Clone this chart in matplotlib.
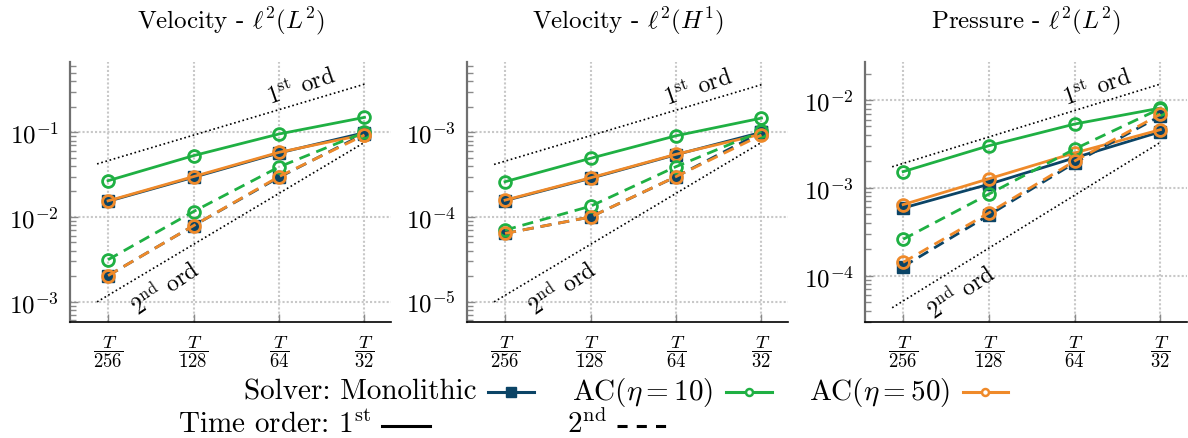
import numpy as np
import matplotlib
matplotlib.use("Agg")
import matplotlib.pyplot as plt
from matplotlib.ticker import LogLocator, NullFormatter, FixedLocator, NullLocator

plt.rcParams["font.family"] = "cmr10"
plt.rcParams["mathtext.fontset"] = "cm"
plt.rcParams["axes.formatter.use_mathtext"] = True
plt.rcParams["axes.unicode_minus"] = True

# time steps (T = 1) and their labels
dt = [1 / 256, 1 / 128, 1 / 64, 1 / 32]
dt_labels = [r"$\dfrac{T}{256}$", r"$\dfrac{T}{128}$", r"$\dfrac{T}{64}$", r"$\dfrac{T}{32}$"]

titles = [r"Velocity - $\ell^2(L^2)$", r"Velocity - $\ell^2(H^1)$", r"Pressure - $\ell^2(L^2)$"]

# velocity l2(L2)
u_l2_mono_1 = [0.0153, 0.0294, 0.057, 0.099]
u_l2_ac10_1 = [0.0268, 0.053, 0.0955, 0.150]
u_l2_ac50_1 = [0.0155, 0.030, 0.058, 0.094]
u_l2_mono_2 = [0.00203, 0.0079, 0.0294, 0.096]
u_l2_ac10_2 = [0.00313, 0.0116, 0.039, 0.100]
u_l2_ac50_2 = [0.00203, 0.0079, 0.030, 0.093]

# velocity l2(H1)
u_h1_mono_1 = [1.56e-4, 2.86e-4, 5.44e-4, 1.0e-3]
u_h1_ac10_1 = [2.61e-4, 4.93e-4, 9.1e-4, 1.47e-3]
u_h1_ac50_1 = [1.58e-4, 2.9e-4, 5.5e-4, 9.5e-4]
u_h1_mono_2 = [6.4e-5, 1.0e-4, 2.99e-4, 1.0e-3]
u_h1_ac10_2 = [7.0e-5, 1.34e-4, 3.93e-4, 1.03e-3]
u_h1_ac50_2 = [6.4e-5, 1.0e-4, 3.0e-4, 9.3e-4]

# pressure l2(L2)
p_l2_mono_1 = [5.9e-4, 1.1e-3, 2.2e-3, 4.35e-3]
p_l2_ac10_1 = [1.53e-3, 3.02e-3, 5.33e-3, 8.1e-3]
p_l2_ac50_1 = [6.45e-4, 1.27e-3, 2.5e-3, 4.6e-3]
p_l2_mono_2 = [1.27e-4, 4.9e-4, 1.93e-3, 6.6e-3]
p_l2_ac10_2 = [2.6e-4, 8.5e-4, 2.77e-3, 8.0e-3]
p_l2_ac50_2 = [1.42e-4, 5.2e-4, 2.02e-3, 6.9e-3]

# reference slopes: value at T/32 of the 1st and 2nd order lines
ref1_end = [0.37, 3.65e-3, 1.52e-2]
ref2_end = [0.076, 7.6e-4, 3.3e-3]

ylims = [(10 ** -3.24, 10 ** -0.17), (10 ** -5.24, 10 ** -2.17), (10 ** -4.527, 10 ** -1.567)]

panels = [
    (u_l2_mono_1, u_l2_ac10_1, u_l2_ac50_1, u_l2_mono_2, u_l2_ac10_2, u_l2_ac50_2),
    (u_h1_mono_1, u_h1_ac10_1, u_h1_ac50_1, u_h1_mono_2, u_h1_ac10_2, u_h1_ac50_2),
    (p_l2_mono_1, p_l2_ac10_1, p_l2_ac50_1, p_l2_mono_2, p_l2_ac10_2, p_l2_ac50_2),
]

NAVY = "#0b4466"
GREEN = "#1fb043"
ORANGE = "#ef8a2a"
GRIDC = "#c8c8c8"

W, H = 1188, 439
fig = plt.figure(figsize=(W / 100, H / 100), dpi=100)

# legend overlay in pixel units
leg = fig.add_axes([0, 0, 1, 1])
leg.set_xlim(0, W)
leg.set_ylim(H, 0)
leg.axis("off")

lefts = [70, 467, 865]
widths = [321, 321, 322]
x_lo = 2 ** (-8 - 0.445)
x_hi = 2 ** (-5 + 0.31)

for i, (series, left, wd) in enumerate(zip(panels, lefts, widths)):
    ax = fig.add_axes([left / W, (H - 323) / H, wd / W, 260 / H])
    ax.set_xscale("log", base=2)
    ax.set_yscale("log")
    ax.set_xlim(x_lo, x_hi)
    ax.set_ylim(*ylims[i])

    mono1, ac10_1, ac50_1, mono2, ac10_2, ac50_2 = series
    sq = dict(marker="s", ms=8.5, lw=2)
    ci = dict(marker="o", ms=8.5, mfc="none", mew=2, lw=2)
    ax.plot(dt, mono1, color=NAVY, **sq, zorder=3)
    ax.plot(dt, ac10_1, color=GREEN, **ci, zorder=3)
    ax.plot(dt, ac50_1, color=ORANGE, **ci, zorder=3)
    ax.plot(dt, mono2, color=NAVY, ls=(0, (4, 2.5)), **sq, zorder=3)
    ax.plot(dt, ac10_2, color=GREEN, ls=(0, (4, 2.5)), **ci, zorder=3)
    ax.plot(dt, ac50_2, color=ORANGE, ls=(0, (4, 2.5)), **ci, zorder=3)

    # order reference lines
    xr = np.array([dt[0] * 0.915, dt[-1]])
    r1 = ref1_end[i] * (xr / dt[-1])
    r2 = ref2_end[i] * (xr / dt[-1]) ** 2
    ax.plot(xr, r1, color="black", ls=(0, (1, 1.6)), lw=1.2, zorder=2)
    ax.plot(xr, r2, color="black", ls=(0, (1, 1.6)), lw=1.2, zorder=2)

    x1 = dt[0] * 2 ** 2.32
    ax.annotate(r"$1^{\rm st}$ ord", xy=(x1, ref1_end[i] * x1 / dt[-1]),
                xytext=(-3.3, 11), textcoords="offset points", fontsize=17,
                rotation=19, rotation_mode="anchor", ha="center", va="center")
    x2 = dt[0] * 2 ** 0.63
    ax.annotate(r"$2^{\rm nd}$ ord", xy=(x2, ref2_end[i] * (x2 / dt[-1]) ** 2),
                xytext=(3, -18), textcoords="offset points", fontsize=17,
                rotation=34, rotation_mode="anchor", ha="center", va="center")

    ax.xaxis.set_major_locator(FixedLocator(dt))
    ax.xaxis.set_minor_locator(NullLocator())
    ax.set_xticklabels(dt_labels)
    ax.yaxis.set_major_locator(LogLocator(base=10, numticks=10))
    ax.yaxis.set_minor_locator(LogLocator(base=10, subs=np.arange(2, 10), numticks=10))
    ax.yaxis.set_minor_formatter(NullFormatter())

    ax.grid(True, which="major", color=GRIDC, ls=(0, (1, 1)), lw=1.5, zorder=0)
    ax.set_axisbelow(True)
    ax.tick_params(axis="both", which="major", direction="in", length=6, width=1,
                   color="#8a8a8a")
    ax.tick_params(axis="y", which="minor", direction="in", length=4.5, width=1,
                   color="#8a8a8a")
    ax.tick_params(axis="y", labelsize=18, pad=8)
    ax.tick_params(axis="x", labelsize=13.5, pad=8)
    for s in ("top", "right"):
        ax.spines[s].set_visible(False)
    ax.spines["left"].set_color("#707070")
    ax.spines["left"].set_linewidth(1.6)
    ax.spines["bottom"].set_color("black")
    ax.spines["bottom"].set_linewidth(1.2)
    ax.set_title(titles[i], fontsize=18, pad=25)

# legend rows
fs = 21
leg.text(477, 400, "Solver: Monolithic", fontsize=fs, ha="right", va="baseline")
leg.plot([488, 534], [393, 393], color=NAVY, lw=2.2)
leg.plot([511], [393], color=NAVY, marker="s", ms=6.5)
leg.text(713, 400, r"AC($\eta = 10$)", fontsize=fs, ha="right", va="baseline")
leg.plot([726, 772], [393, 393], color=GREEN, lw=2.2)
leg.plot([749], [393], color=GREEN, marker="o", ms=5, mfc="white", mew=1.8)
leg.text(950, 400, r"AC($\eta = 50$)", fontsize=fs, ha="right", va="baseline")
leg.plot([963, 1008], [393, 393], color=ORANGE, lw=2.2)
leg.plot([985], [393], color=ORANGE, marker="o", ms=5, mfc="white", mew=1.8)

leg.text(371, 433, r"Time order: 1$^{\rm st}$", fontsize=fs, ha="right", va="baseline")
leg.plot([382, 430], [427, 427], color="black", lw=2.2)
leg.text(607, 433, r"2$^{\rm nd}$", fontsize=fs, ha="right", va="baseline")
leg.plot([617, 668], [427, 427], color="black", lw=2.2, ls=(0, (3.3, 3.0)))

fig.savefig("out.png", dpi=100)
